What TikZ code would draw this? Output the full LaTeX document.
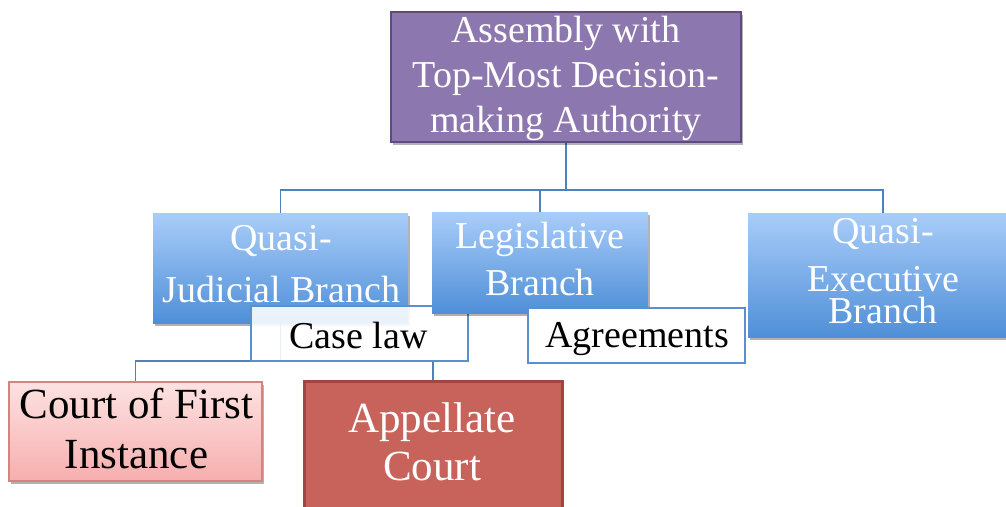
\documentclass[tikz,border=0pt]{standalone}
\usepackage{fontspec}
\setmainfont{Liberation Serif}
\usetikzlibrary{shadows}
\definecolor{purpfill}{HTML}{8C77AE}
\definecolor{purpline}{HTML}{5F4B80}
\definecolor{bluetop}{HTML}{A9CDF9}
\definecolor{bluebot}{HTML}{4F8FD8}
\definecolor{pinktop}{HTML}{FDE2E2}
\definecolor{pinkbot}{HTML}{F7AEAE}
\definecolor{pinkline}{HTML}{D6827F}
\definecolor{appfill}{HTML}{C8635B}
\definecolor{appline}{HTML}{A0453F}
\definecolor{conn}{HTML}{4F81BD}
\definecolor{tagline}{HTML}{5B8FD0}
\tikzset{
  mysh/.style={drop shadow={shadow xshift=2pt,shadow yshift=-3pt,opacity=0.3,fill=black}},
  boxbase/.style={rectangle, inner sep=0pt, outer sep=0pt},
  purpbox/.style={boxbase, fill=purpfill, draw=purpline, line width=2.5pt, mysh},
  bluebox/.style={boxbase, top color=bluetop, bottom color=bluebot, draw=none, mysh},
  tagbox/.style={boxbase, fill=white, fill opacity=0.88, draw=tagline, line width=1.5pt, draw opacity=1},
  pinkbox/.style={boxbase, top color=pinktop, bottom color=pinkbot, draw=pinkline, line width=1.5pt, mysh},
  appbox/.style={boxbase, fill=appfill, draw=appline, line width=3pt, mysh},
  wlbl/.style={anchor=base, inner sep=0pt, text=white, font=\fontsize{38}{44}\selectfont},
  blbl/.style={anchor=base, inner sep=0pt, text=black, font=\fontsize{38}{44}\selectfont},
  biglbl/.style={font=\fontsize{43}{50}\selectfont},
  link/.style={draw=conn, line width=1.5pt}
}
\begin{document}
\begin{tikzpicture}[x=1pt,y=-1pt]
\useasboundingbox (0,0) rectangle (1006,506);
\coordinate (bus) at (0,190);
\coordinate (bustwo) at (0,361);
\node[boxbase, minimum width=350, minimum height=130] (top) at (566,77) {};
\node[boxbase, minimum width=255, minimum height=110] (qj) at (280.5,268) {};
\node[boxbase, minimum width=216, minimum height=101] (leg) at (540,262.5) {};
\node[boxbase, minimum width=270, minimum height=124] (qe) at (883,275) {};
\node[boxbase, minimum width=253, minimum height=99] (cf) at (135.5,431.5) {};
\node[boxbase, minimum width=258, minimum height=138] (ap) at (433,450) {};
\draw[link] (top.south) -- (top.south |- bus) -| (qj.north);
\draw[link] (top.south |- bus) -| (leg.north);
\draw[link] (top.south |- bus) -| (qe.north);
\draw[link] (qj.south) -- (qj.south |- bustwo) -| (cf.north);
\draw[link] (qj.south |- bustwo) -| (ap.north);
\node[bluebox, minimum width=255, minimum height=110] (qjb) at (qj) {};
\node[wlbl] (qjt1) at (281,250) {Quasi-};
\node[wlbl] (qjt2) at (281.5,302) {Judicial Branch};
\node[tagbox, minimum width=217, minimum height=55] (cl) at (359.5,333.5) {};
\node[blbl] (clt) at (358.5,348) {Case law};
\node[bluebox, minimum width=216, minimum height=101] (legb) at (leg) {};
\node[wlbl] (legt1) at (540,248) {Legislative};
\node[wlbl] (legt2) at (540,295) {Branch};
\node[tagbox, fill opacity=1, minimum width=217, minimum height=55] (ag) at (636.5,335.5) {};
\node[blbl] (agt) at (637,347) {Agreements};
\node[bluebox, minimum width=270, minimum height=124] (qeb) at (qe) {};
\node[wlbl] (qet1) at (883,243) {Quasi-};
\node[wlbl] (qet2) at (883,291) {Executive};
\node[wlbl] (qet3) at (883,323) {Branch};
\node[purpbox, minimum width=350, minimum height=130] (topb) at (top) {};
\node[wlbl] (topt1) at (566,42) {Assembly with};
\node[wlbl] (topt2) at (566,87) {Top-Most Decision-};
\node[wlbl] (topt3) at (566,132) {making Authority};
\node[pinkbox, minimum width=253, minimum height=99] (cfb) at (cf) {};
\node[blbl, biglbl] (cft1) at (136.5,418) {Court of First};
\node[blbl, biglbl] (cft2) at (136.5,468) {Instance};
\node[appbox, minimum width=258, minimum height=138] (apb) at (ap) {};
\node[wlbl, biglbl] (apt1) at (432,432) {Appellate};
\node[wlbl, biglbl] (apt2) at (432,480) {Court};
\end{tikzpicture}
\end{document}
